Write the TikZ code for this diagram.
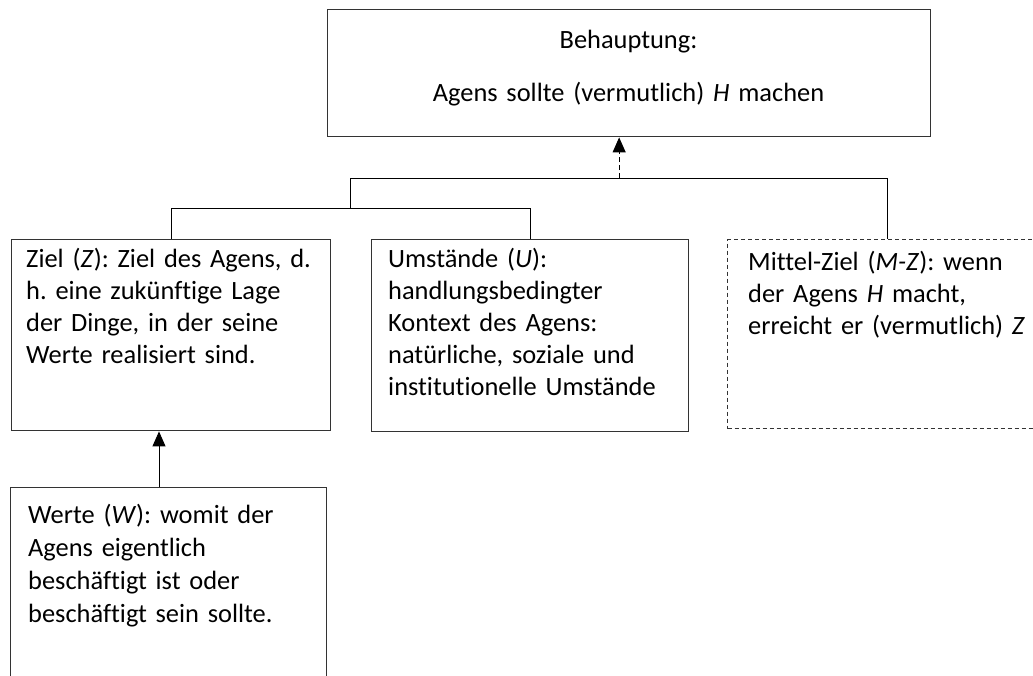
\documentclass[tikz,border=0pt]{standalone}
\usepackage{fontspec}
\setmainfont{Carlito}[Ligatures={NoCommon}]
\usetikzlibrary{arrows.meta,calc}
\tikzset{
  frame/.style={draw=black!80, line width=1.4pt, rectangle, inner sep=0pt, anchor=north west},
  dashframe/.style={frame, dash pattern=on 4pt off 3pt, line width=1.2pt},
  link/.style={draw=black, line width=1pt},
  arrow/.style={-{Triangle[length=15pt,width=13pt]}, line width=1pt},
  dasharrow/.style={arrow, dash pattern=on 5pt off 3pt}
}
\frenchspacing

\begin{document}
\begin{tikzpicture}[x=1pt, y=-1pt,
  txt/.style={inner sep=0pt, align=left, text width=300pt, anchor=base west, font=\fontsize{26.4pt}{32pt}\selectfont},
  ctxt/.style={txt, align=center, text width=580pt, anchor=base}
]
\useasboundingbox (0,0) rectangle (1033,675);
\clip (0,0) rectangle (1033,675);
\fill[white] (0,0) rectangle (1033,675);
% boxes
\node[frame, minimum width=603pt, minimum height=127pt] (claim) at (327,9) {};
\node[frame, minimum width=319pt, minimum height=191pt] (ziel) at (11,239) {};
\node[frame, minimum width=317pt, minimum height=192pt] (umst) at (371,239) {};
\node[dashframe, minimum width=320pt, minimum height=189pt] (mittel) at (727,239) {};
\node[frame, minimum width=316pt, minimum height=220pt] (werte) at (10,487) {};
% texts
\node[ctxt] (claimT) at (628.5,48) {Behauptung:\\[21pt]Agens sollte (vermutlich) \textit{H} machen};
\node[txt] (zielT) at (26,267) {Ziel (\textit{Z}): Ziel des Agens, d.\\h. eine zukünftige Lage\\der Dinge, in der seine\\Werte realisiert sind.};
\node[txt] (umstT) at (388,267) {Umstände (\textit{U}):\\handlungsbedingter\\Kontext des Agens:\\natürliche, soziale und\\institutionelle Umstände};
\node[txt] (mittelT) at (748,270) {Mittel-Ziel (\textit{M-Z}): wenn\\der Agens \textit{H} macht,\\erreicht er (vermutlich) \textit{Z}};
\node[txt, font=\fontsize{26.4pt}{33pt}\selectfont] (werteT) at (28,523) {Werte (\textit{W}): womit der\\Agens eigentlich\\beschäftigt ist oder\\beschäftigt sein sollte.};
% tree of premises
\coordinate (lowbar) at (0,208);
\coordinate (topbar) at (0,178);
\draw[link] (ziel.north) |- (lowbar -| umst.north) -- (umst.north);
\coordinate (lowmid) at ($(ziel.north |- lowbar)!0.5!(umst.north |- lowbar)$);
\draw[link] (lowmid) |- (topbar -| mittel.north) -- (mittel.north);
\coordinate (topmid) at ($(lowmid |- topbar)!0.5!(mittel.north |- topbar)$);
\draw[dasharrow] (topmid) -- (topmid |- claim.south);
% values support the goal
\coordinate (wx) at (159,0);
\draw[arrow] (werte.north -| wx) -- (ziel.south -| wx);
\end{tikzpicture}
\end{document}
